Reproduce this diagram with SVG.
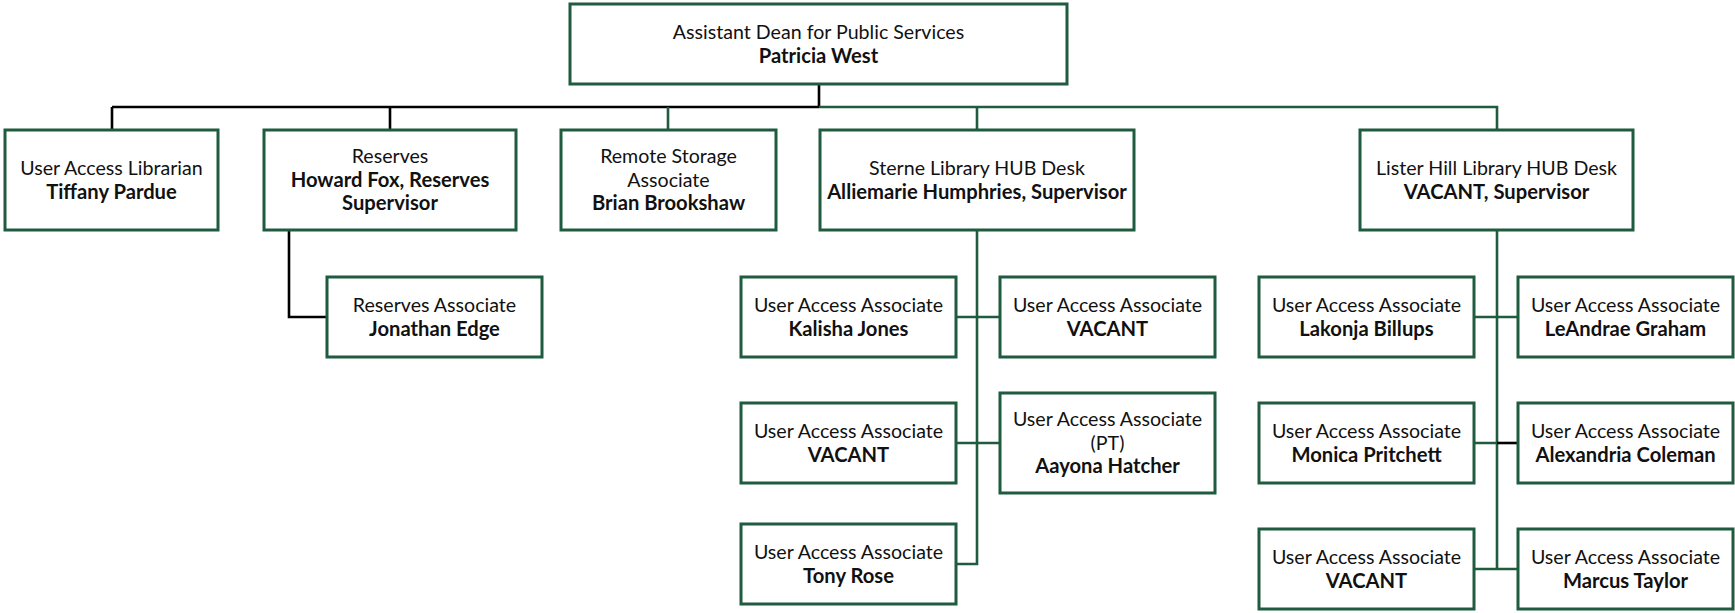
<svg xmlns="http://www.w3.org/2000/svg" width="1735" height="613" viewBox="0 0 1735 613">
<style>
.box{fill:#fff;stroke:#1e5b3f;stroke-width:3}
.t{font-family:Lato,"Liberation Sans",sans-serif;font-size:19.6px;fill:#111;text-anchor:middle}
.b{font-weight:bold;font-size:20.2px}
.g{fill:none;stroke:#1e5b3f;stroke-width:2.6}
.k{fill:none;stroke:#000;stroke-width:2.6}
</style>
<rect width="1735" height="613" fill="#fff"/>
<g id="connectors">
<path class="k" d="M819,84V107M112,107H819M112,107V130M390,107V130M289,230V317H327"/>
<path class="g" d="M819,107H1497V130M668,107V130M977,107V130"/>
<path class="g" d="M977,230V564H956M956,317H1000M956,443H1000"/>
<path class="g" d="M1497,230V569M1474,317H1518M1474,443H1497M1474,569H1518"/>
<path class="k" d="M1497,443H1518"/>
</g>
<g id="n-dean"><rect class="box" x="570" y="4" width="497" height="80"/>
<text class="t" x="818.5" y="38.5">Assistant Dean for Public Services</text><text class="t b" x="818.5" y="62.5">Patricia West</text></g>
<g id="n-ual"><rect class="box" x="5" y="130" width="213" height="100"/>
<text class="t" x="111.5" y="174.5">User Access Librarian</text><text class="t b" x="111.5" y="198.5">Tiffany Pardue</text></g>
<g id="n-reserves"><rect class="box" x="264" y="130" width="252" height="100"/>
<text class="t" x="390" y="163">Reserves</text><text class="t b" x="390" y="186.5">Howard Fox, Reserves</text><text class="t b" x="390" y="210">Supervisor</text></g>
<g id="n-remote"><rect class="box" x="561" y="130" width="215" height="100"/>
<text class="t" x="668.5" y="163">Remote Storage</text><text class="t" x="668.5" y="186.5">Associate</text><text class="t b" x="668.5" y="210">Brian Brookshaw</text></g>
<g id="n-sterne"><rect class="box" x="820" y="130" width="314" height="100"/>
<text class="t" x="977" y="174.5">Sterne Library HUB Desk</text><text class="t b" x="977" y="198.5">Alliemarie Humphries, Supervisor</text></g>
<g id="n-lister"><rect class="box" x="1360" y="130" width="273" height="100"/>
<text class="t" x="1496.5" y="174.5">Lister Hill Library HUB Desk</text><text class="t b" x="1496.5" y="198.5">VACANT, Supervisor</text></g>
<g id="n-edge"><rect class="box" x="327" y="277" width="215" height="80"/>
<text class="t" x="434.5" y="311.5">Reserves Associate</text><text class="t b" x="434.5" y="335.5">Jonathan Edge</text></g>
<g id="n-kalisha"><rect class="box" x="741" y="277" width="215" height="80"/>
<text class="t" x="848.5" y="311.5">User Access Associate</text><text class="t b" x="848.5" y="335.5">Kalisha Jones</text></g>
<g id="n-s-vacant1"><rect class="box" x="1000" y="277" width="215" height="80"/>
<text class="t" x="1107.5" y="311.5">User Access Associate</text><text class="t b" x="1107.5" y="335.5">VACANT</text></g>
<g id="n-s-vacant2"><rect class="box" x="741" y="403" width="215" height="80"/>
<text class="t" x="848.5" y="437.5">User Access Associate</text><text class="t b" x="848.5" y="461.5">VACANT</text></g>
<g id="n-aayona"><rect class="box" x="1000" y="393" width="215" height="100"/>
<text class="t" x="1107.5" y="426">User Access Associate</text><text class="t" x="1107.5" y="449.5">(PT)</text><text class="t b" x="1107.5" y="473">Aayona Hatcher</text></g>
<g id="n-tony"><rect class="box" x="741" y="524" width="215" height="80"/>
<text class="t" x="848.5" y="558.5">User Access Associate</text><text class="t b" x="848.5" y="582.5">Tony Rose</text></g>
<g id="n-lakonja"><rect class="box" x="1259" y="277" width="215" height="80"/>
<text class="t" x="1366.5" y="311.5">User Access Associate</text><text class="t b" x="1366.5" y="335.5">Lakonja Billups</text></g>
<g id="n-leandrae"><rect class="box" x="1518" y="277" width="215" height="80"/>
<text class="t" x="1625.5" y="311.5">User Access Associate</text><text class="t b" x="1625.5" y="335.5">LeAndrae Graham</text></g>
<g id="n-monica"><rect class="box" x="1259" y="403" width="215" height="80"/>
<text class="t" x="1366.5" y="437.5">User Access Associate</text><text class="t b" x="1366.5" y="461.5">Monica Pritchett</text></g>
<g id="n-alexandria"><rect class="box" x="1518" y="403" width="215" height="80"/>
<text class="t" x="1625.5" y="437.5">User Access Associate</text><text class="t b" x="1625.5" y="461.5">Alexandria Coleman</text></g>
<g id="n-l-vacant"><rect class="box" x="1259" y="529" width="215" height="80"/>
<text class="t" x="1366.5" y="563.5">User Access Associate</text><text class="t b" x="1366.5" y="587.5">VACANT</text></g>
<g id="n-marcus"><rect class="box" x="1518" y="529" width="215" height="80"/>
<text class="t" x="1625.5" y="563.5">User Access Associate</text><text class="t b" x="1625.5" y="587.5">Marcus Taylor</text></g>
</svg>
